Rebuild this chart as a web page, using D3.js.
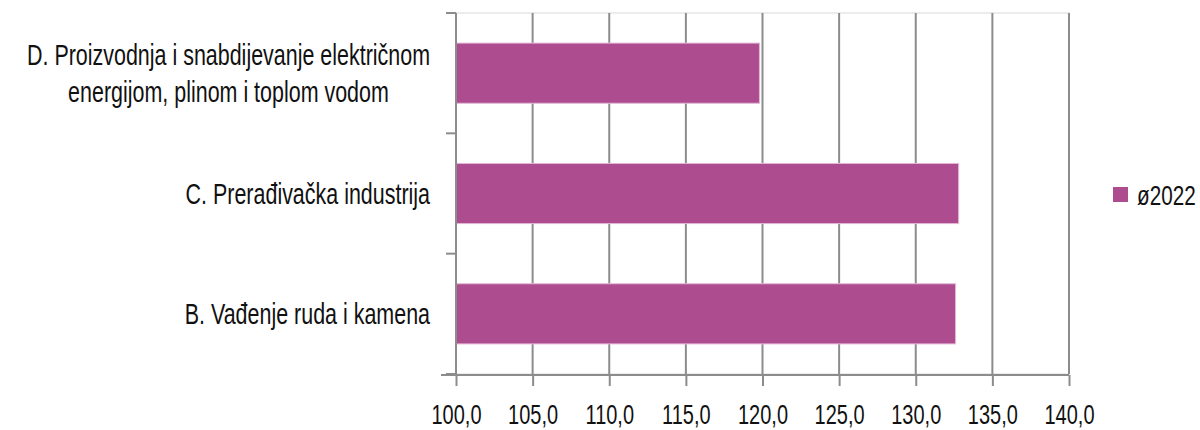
<!DOCTYPE html>
<html>
<head>
<meta charset="utf-8">
<script src="https://cdn.jsdelivr.net/npm/d3@7"></script>
<style>
    body { margin: 0; background: #fff; }
    svg text { font-family: "Liberation Sans", Arial, sans-serif; fill: #111; }
</style>
</head>
<body>
<div id="chart"></div>
<script>
// data
const categories = ["D", "C", "B"];
const categoryLabels = [
    ["D. Proizvodnja i snabdijevanje električnom", "energijom, plinom i toplom vodom"],
    ["C. Prerađivačka industrija"],
    ["B. Vađenje ruda i kamena"]
];
const values2022 = [119.8, 132.8, 132.6];
const xTicks = [100, 105, 110, 115, 120, 125, 130, 135, 140];
const seriesName = "ø2022";

const width = 1200, height = 430;
const margin = { top: 13, right: 131, bottom: 56, left: 456 };
const barColor = "#ad4c8e";
const narrow = 0.74; // the original font is a condensed face, squeeze a normal one

const svg = d3.select("#chart").append("svg")
    .attr("width", width)
    .attr("height", height);

const x = d3.scaleLinear()
    .domain([100, 140])
    .range([margin.left, width - margin.right]);

const y = d3.scaleBand()
    .domain(categories)
    .range([margin.top, height - margin.bottom])
    .paddingInner(0.5)
    .paddingOuter(0.25);

const plotTop = margin.top, plotBottom = height - margin.bottom;

// plot area frame (faint)
svg.append("rect")
    .attr("x", margin.left)
    .attr("y", plotTop)
    .attr("width", x(140) - margin.left)
    .attr("height", plotBottom - plotTop)
    .attr("fill", "none")
    .attr("stroke", "#e6e6e6")
    .attr("stroke-width", 1.5);

// vertical gridlines
svg.append("g")
    .selectAll("line")
    .data(xTicks.slice(1))
    .enter().append("line")
    .attr("x1", d => x(d))
    .attr("x2", d => x(d))
    .attr("y1", plotTop)
    .attr("y2", plotBottom)
    .attr("stroke", "#8c8c8c")
    .attr("stroke-width", 2);

// bars
svg.append("g")
    .selectAll("rect")
    .data(categories)
    .enter().append("rect")
    .attr("x", x(100))
    .attr("y", d => y(d))
    .attr("width", (d, i) => x(values2022[i]) - x(100))
    .attr("height", y.bandwidth())
    .attr("fill", barColor)
    .attr("stroke", "#e4b9d6")
    .attr("stroke-width", 1);

// x axis
const xAxis = svg.append("g")
    .attr("transform", `translate(0,${plotBottom + 1})`)
    .call(d3.axisBottom(x)
        .tickValues(xTicks)
        .tickSize(11)
        .tickSizeOuter(0)
        .tickFormat(d => d3.format(".1f")(d).replace(".", ",")));
xAxis.select(".domain").remove();
xAxis.append("line")
    .attr("x1", margin.left - 15)
    .attr("x2", x(140))
    .attr("stroke", "#8c8c8c")
    .attr("stroke-width", 2);
xAxis.selectAll(".tick line").attr("stroke", "#8c8c8c").attr("stroke-width", 2);
xAxis.selectAll(".tick text")
    .attr("font-size", "27px")
    .attr("fill", "#111")
    .attr("y", 49)
    .attr("dy", 0)
    .attr("transform", `scale(${narrow},1)`);

// y axis line + ticks on band boundaries
const yAxis = svg.append("g");
yAxis.append("line")
    .attr("x1", margin.left)
    .attr("x2", margin.left)
    .attr("y1", plotTop)
    .attr("y2", plotBottom)
    .attr("stroke", "#8c8c8c")
    .attr("stroke-width", 2);
const step = (plotBottom - plotTop) / categories.length;
yAxis.selectAll("line.tick")
    .data(d3.range(categories.length + 1))
    .enter().append("line")
    .attr("class", "tick")
    .attr("x1", margin.left - 10)
    .attr("x2", margin.left)
    .attr("y1", d => plotTop + d * step)
    .attr("y2", d => plotTop + d * step)
    .attr("stroke", "#8c8c8c")
    .attr("stroke-width", 2);

// category labels
const lineHeight = 37;
const labelX = 430;
categories.forEach((c, i) => {
    const lines = categoryLabels[i];
    const cy = y(c) + y.bandwidth() / 2;
    const g = svg.append("g")
        .attr("transform", `translate(${labelX},${cy}) scale(${narrow},1)`);
    const t = g.append("text")
        .attr("font-size", "29px")
        .attr("dominant-baseline", "central");
    if (lines.length === 1) {
        t.attr("text-anchor", "end").text(lines[0]);
    } else {
        // multi-line labels: lines centred on the widest one, block right-aligned
        t.attr("text-anchor", "middle");
        lines.forEach((l, j) => {
            t.append("tspan")
                .attr("x", 0)
                .attr("y", (j - (lines.length - 1) / 2) * lineHeight)
                .text(l);
        });
        const w = t.node().getBBox().width;
        t.selectAll("tspan").attr("x", -w / 2);
    }
});

// legend
const legend = svg.append("g").attr("transform", "translate(1113,187)");
legend.append("rect")
    .attr("width", 15)
    .attr("height", 15)
    .attr("fill", barColor);
legend.append("text")
    .attr("transform", `translate(24,8) scale(${narrow},1)`)
    .attr("dominant-baseline", "central")
    .attr("font-size", "28px")
    .text(seriesName);
</script>
</body>
</html>
